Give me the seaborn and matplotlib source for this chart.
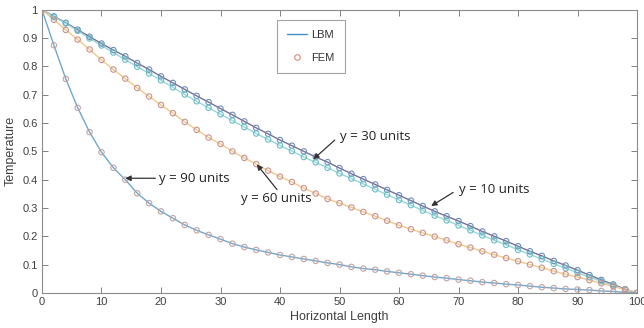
import numpy as np
import pandas as pd
import matplotlib
matplotlib.use("Agg")
import matplotlib.pyplot as plt
import seaborn as sns
from matplotlib.lines import Line2D

# ---------------- data ----------------
x_vals = list(range(0, 101, 2))

t_y10 = [1.000, 0.977, 0.954, 0.930, 0.905, 0.881, 0.858, 0.836, 0.812, 0.789,
         0.765, 0.742, 0.719, 0.696, 0.674, 0.651, 0.629, 0.606, 0.583, 0.562,
         0.540, 0.520, 0.500, 0.480, 0.462, 0.441, 0.421, 0.402, 0.383, 0.364,
         0.345, 0.326, 0.307, 0.288, 0.271, 0.254, 0.236, 0.217, 0.200, 0.183,
         0.165, 0.147, 0.131, 0.113, 0.097, 0.080, 0.063, 0.046, 0.030, 0.013, 0.000]

t_y30 = [1.000, 0.975, 0.952, 0.926, 0.899, 0.874, 0.849, 0.824, 0.799, 0.775,
         0.751, 0.726, 0.701, 0.677, 0.654, 0.631, 0.609, 0.586, 0.563, 0.542,
         0.521, 0.501, 0.480, 0.461, 0.442, 0.422, 0.404, 0.385, 0.366, 0.347,
         0.328, 0.310, 0.291, 0.273, 0.256, 0.238, 0.221, 0.203, 0.186, 0.170,
         0.152, 0.136, 0.119, 0.103, 0.087, 0.071, 0.056, 0.041, 0.026, 0.011, 0.000]

t_y60 = [1.000, 0.965, 0.929, 0.895, 0.860, 0.823, 0.789, 0.757, 0.724, 0.694,
         0.664, 0.635, 0.604, 0.576, 0.549, 0.526, 0.500, 0.477, 0.455, 0.432,
         0.411, 0.392, 0.370, 0.351, 0.332, 0.317, 0.302, 0.286, 0.271, 0.255,
         0.239, 0.225, 0.212, 0.199, 0.186, 0.172, 0.160, 0.147, 0.135, 0.123,
         0.112, 0.100, 0.089, 0.077, 0.066, 0.056, 0.045, 0.034, 0.023, 0.012, 0.000]

t_y90 = [1.000, 0.875, 0.756, 0.654, 0.568, 0.497, 0.442, 0.400, 0.352, 0.317,
         0.288, 0.264, 0.240, 0.221, 0.205, 0.190, 0.174, 0.162, 0.152, 0.143,
         0.134, 0.127, 0.120, 0.113, 0.106, 0.100, 0.092, 0.086, 0.082, 0.076,
         0.071, 0.066, 0.061, 0.056, 0.052, 0.047, 0.043, 0.038, 0.035, 0.031,
         0.028, 0.024, 0.020, 0.017, 0.014, 0.012, 0.010, 0.007, 0.005, 0.002, 0.000]

series_names = ["y = 10 units", "y = 30 units", "y = 60 units", "y = 90 units"]
series_values = [t_y10, t_y30, t_y60, t_y90]

line_colors = ["#7a6e9c", "#96d8da", "#f2c88a", "#6fa8cf"]
marker_colors = ["#6a90b4", "#6cbcc4", "#c9928e", "#c4a2a0"]

df = pd.DataFrame({
    "x": np.tile(x_vals, len(series_names)),
    "T": np.concatenate(series_values),
    "series": np.repeat(series_names, len(x_vals)),
})

# ---------------- figure ----------------
sns.set_style("white")
plt.rcParams["font.family"] = ["Liberation Sans", "DejaVu Sans"]

fig = plt.figure(figsize=(6.44, 3.28), dpi=100)
ax = fig.add_axes([0.0652, 0.107, 0.924, 0.863])

sns.lineplot(data=df, x="x", y="T", hue="series", palette=dict(zip(series_names, line_colors)),
             linewidth=1.0, ax=ax, legend=False, zorder=2)
for name, mc in zip(series_names, marker_colors):
    sub = df[df["series"] == name]
    sns.scatterplot(x=sub["x"], y=sub["T"], marker="o", s=15, fc="none", ec=mc,
                    linewidth=0.8, ax=ax, legend=False, zorder=3)

ax.set_xlim(0, 100)
ax.set_ylim(0, 1)
ax.set_xticks(range(0, 101, 10))
ax.set_yticks(np.round(np.arange(0, 1.01, 0.1), 1))
ax.set_yticklabels(["0", "0.1", "0.2", "0.3", "0.4", "0.5", "0.6", "0.7", "0.8", "0.9", "1"])
ax.tick_params(direction="in", length=4, width=0.7, colors="#808080", labelcolor="#404040",
               labelsize=8, top=True, right=True, bottom=True, left=True, pad=3)
for sp in ax.spines.values():
    sp.set_color("#8c8c8c")
    sp.set_linewidth(0.8)
    sp.set_visible(True)

ax.set_xlabel("Horizontal Length", fontsize=9, color="#404040", labelpad=3)
ax.set_ylabel("Temperature", fontsize=9, color="#404040", labelpad=4)

# legend
handles = [Line2D([0], [0], color="#3f8fc9", lw=1.0),
           Line2D([0], [0], color="none", marker="o", markersize=4, markerfacecolor="none",
                  markeredgecolor="#d98a70", markeredgewidth=0.8)]
leg = ax.legend(handles, ["LBM", "FEM"], loc="upper left", bbox_to_anchor=(0.395, 0.964),
                borderaxespad=0, fontsize=8, frameon=True, fancybox=False, edgecolor="#8c8c8c",
                handlelength=1.8, handletextpad=0.4, labelspacing=1.2, borderpad=0.9)
leg.get_frame().set_linewidth(0.8)
for t in leg.get_texts():
    t.set_color("#333333")

# annotations
ann_font = dict(fontsize=9.5, family=["Open Sans", "DejaVu Sans"], color="#222222")
arrow = dict(arrowstyle="-|>", color="#333333", lw=0.9, mutation_scale=8, shrinkA=0, shrinkB=0)
ax.annotate("y = 90 units", xy=(14.0, 0.405), xytext=(19.6, 0.405), ha="left", va="center",
            arrowprops=arrow, **ann_font)
ax.text(33.5, 0.335, "y = 60 units", ha="left", va="center", **ann_font)
ax.annotate("", xy=(36.1, 0.454), xytext=(39.5, 0.365), arrowprops=arrow)
ax.text(50.0, 0.552, "y = 30 units", ha="left", va="center", **ann_font)
ax.annotate("", xy=(45.6, 0.472), xytext=(49.2, 0.54), arrowprops=arrow)
ax.text(70.0, 0.367, "y = 10 units", ha="left", va="center", **ann_font)
ax.annotate("", xy=(65.4, 0.307), xytext=(69.1, 0.355), arrowprops=arrow)

fig.savefig("out.png", dpi=100)
